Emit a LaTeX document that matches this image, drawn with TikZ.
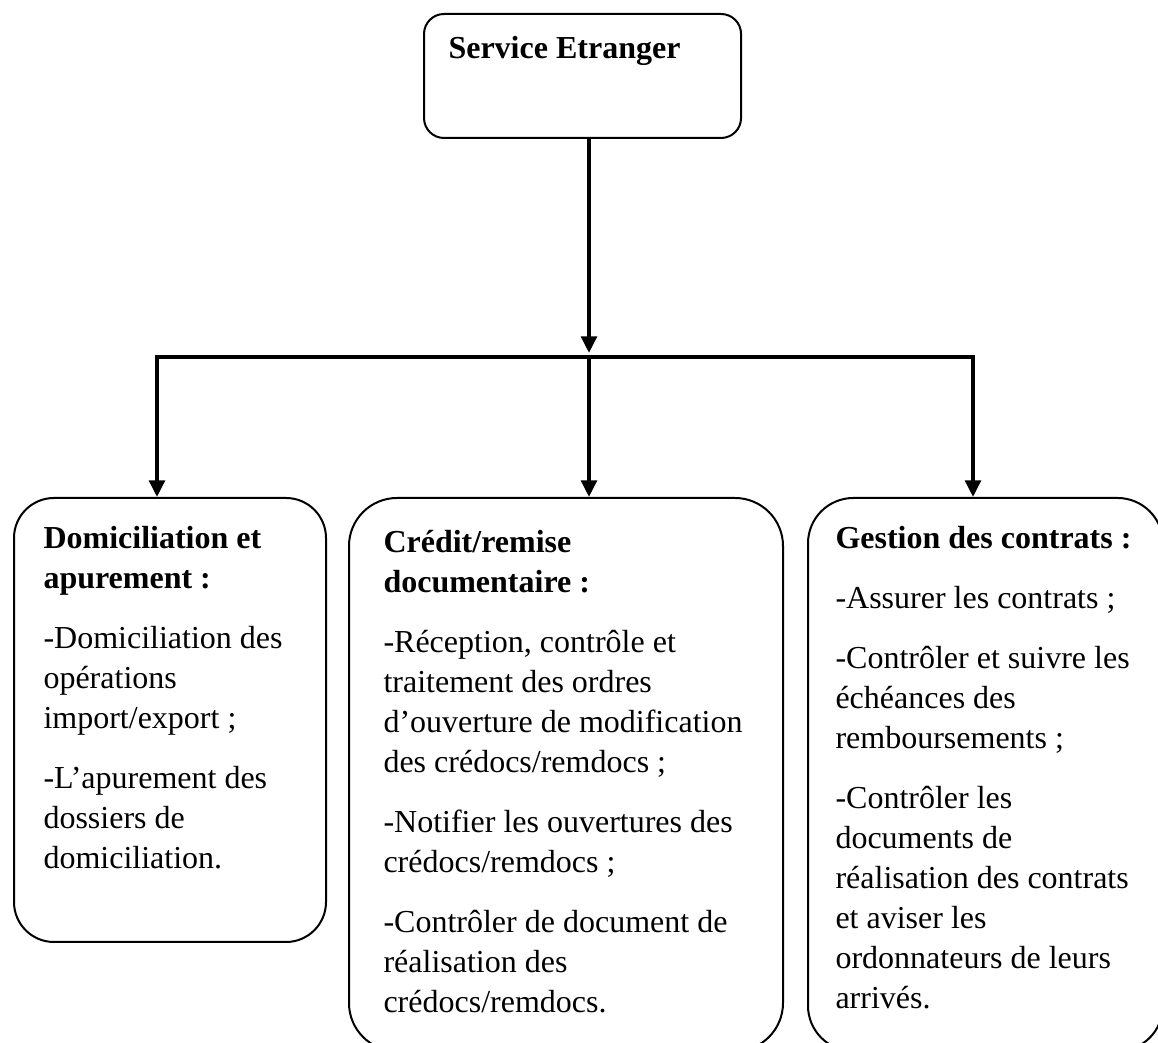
\documentclass[tikz,border=0pt]{standalone}
\usepackage{fontspec}
\setmainfont{Liberation Serif}
\usetikzlibrary{arrows.meta}
\begin{document}
\begin{tikzpicture}[x=0.375pt,y=-0.375pt,
  boxshape/.style={draw, line width=0.75pt, inner sep=0pt, anchor=north west},
  txt/.style={anchor=north west, inner sep=0pt, align=left, font=\fontsize{12}{15}\selectfont},
  conn/.style={line width=1.5pt},
  arr/.style={line width=1.4pt, -{Triangle[width=5.8pt,length=6.2pt]}}]
\useasboundingbox (0,0) rectangle (1158,1043);
\clip (0,0) rectangle (1158,1043);
\fill[white] (0,0) rectangle (1158,1043);

% boxes
\node[boxshape, rounded corners=7.5pt, minimum width=118.9pt, minimum height=46.5pt] (top) at (423,13) {};
\node[boxshape, rounded corners=15pt, minimum width=117pt, minimum height=166.5pt] (b1) at (13,497) {};
\node[boxshape, rounded corners=18pt, minimum width=162.75pt, minimum height=207.4pt] (b2) at (348,497) {};
\node[boxshape, rounded corners=17pt, minimum width=133.1pt, minimum height=207.4pt] (b3) at (807,497) {};

% texts
\node[txt] (t0) at (448,30) {\strut\textbf{Service Etranger}};
\node[txt] (t1) at (43,520) {\strut\textbf{Domiciliation et}\\\textbf{apurement :}\\[7.5pt]
-Domiciliation des\\opérations\\import/export ;\\[7.5pt]
-L’apurement des\\dossiers de\\domiciliation.};
\node[txt] (t2) at (383,524) {\strut\textbf{Crédit/remise}\\\textbf{documentaire :}\\[7.5pt]
-Réception, contrôle et\\traitement des ordres\\d’ouverture de modification\\des crédocs/remdocs ;\\[7.5pt]
-Notifier les ouvertures des\\crédocs/remdocs ;\\[7.5pt]
-Contrôler de document de\\réalisation des\\crédocs/remdocs.};
\node[txt] (t3) at (835,520) {\strut\textbf{Gestion des contrats :}\\[7.5pt]
-Assurer les contrats ;\\[7.5pt]
-Contrôler et suivre les\\échéances des\\remboursements ;\\[7.5pt]
-Contrôler les\\documents de\\réalisation des contrats\\et aviser les\\ordonnateurs de leurs\\arrivés.};

% connectors
\coordinate (hl) at (155,357);
\coordinate (hr) at (975,357);
\coordinate (j1) at (157,357);
\coordinate (j2) at (589,357);
\coordinate (j3) at (973,357);
\draw[arr, shorten >=1.5pt] (top.south -| j2) -- (j2);
\draw[conn] (hl) -- (hr);
\draw[arr] (j1) -- (j1 |- b1.north);
\draw[arr] (j2) -- (j2 |- b2.north);
\draw[arr] (j3) -- (j3 |- b3.north);
\end{tikzpicture}
\end{document}
